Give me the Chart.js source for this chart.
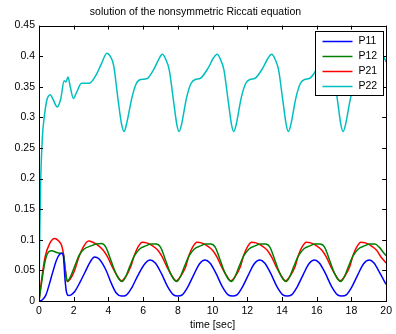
<!DOCTYPE html>
<html>
<head>
<meta charset="utf-8">
<script src="https://cdn.jsdelivr.net/npm/chart.js@4"></script>
<style>
  html, body { margin: 0; padding: 0; background: #fff; }
  #wrap { width: 396px; height: 334px; }
</style>
</head>
<body>
<div id="wrap"><canvas id="riccatiChart"></canvas></div>
<script>
const seriesNames = ['P11', 'P12', 'P21', 'P22'];
const seriesColors = ['#0000ff', '#008000', '#ff0000', '#00bfbf'];

const xTicks = [0, 2, 4, 6, 8, 10, 12, 14, 16, 18, 20];
const yTicks = [0, 0.05, 0.1, 0.15, 0.2, 0.25, 0.3, 0.35, 0.4, 0.45];
const yTickLabels = ['0', '0.05', '0.1', '0.15', '0.2', '0.25', '0.3', '0.35', '0.4', '0.45'];

// P11 (blue)
const p11Time = [0, 0.2, 0.4, 0.6, 0.8, 1.0, 1.15, 1.3, 1.4, 1.5, 1.58, 1.7, 1.85, 2.05, 2.35, 2.65, 2.95, 3.2, 3.45, 3.85,
  4.15, 4.45, 4.75, 5.0, 5.35, 5.7, 6.1, 6.4, 6.7, 7.05, 7.4, 7.75, 8.0, 8.25, 8.55, 8.9, 9.25, 9.57, 9.85, 10.2,
  10.55, 10.9, 11.15, 11.4, 11.7, 12.05, 12.4, 12.73, 13.0, 13.35, 13.7, 14.05, 14.3, 14.55, 14.85, 15.2, 15.55, 15.88, 16.15, 16.5,
  16.85, 17.2, 17.45, 17.7, 18.0, 18.35, 18.7, 19.03, 19.3, 19.65, 20];
const p11Values = [0, 0.002, 0.01, 0.028, 0.048, 0.066, 0.075, 0.078, 0.074, 0.035, 0.015, 0.009, 0.010, 0.015, 0.030, 0.047, 0.064, 0.072, 0.069, 0.051,
  0.030, 0.013, 0.008, 0.009, 0.022, 0.042, 0.061, 0.067, 0.062, 0.045, 0.024, 0.010, 0.008, 0.010, 0.022, 0.042, 0.061, 0.067, 0.062, 0.045,
  0.024, 0.010, 0.008, 0.010, 0.022, 0.042, 0.061, 0.067, 0.062, 0.045, 0.024, 0.010, 0.008, 0.010, 0.022, 0.042, 0.061, 0.067, 0.062, 0.045,
  0.024, 0.010, 0.008, 0.010, 0.022, 0.042, 0.061, 0.067, 0.062, 0.045, 0.027];

// P12 (green)
const p12Time = [0, 0.15, 0.35, 0.55, 0.75, 0.95, 1.2, 1.4, 1.5, 1.63, 1.85, 2.1, 2.3, 2.6, 3.0, 3.3, 3.6, 3.85, 4.1, 4.35,
  4.6, 4.8, 5.0, 5.25, 5.5, 5.8, 6.15, 6.45, 6.75, 7.0, 7.25, 7.5, 7.75, 7.95, 8.15, 8.4, 8.65, 8.95, 9.3, 9.6,
  9.9, 10.15, 10.4, 10.65, 10.9, 11.1, 11.3, 11.55, 11.8, 12.1, 12.45, 12.75, 13.05, 13.3, 13.55, 13.8, 14.05, 14.25, 14.45, 14.7,
  14.95, 15.25, 15.6, 15.9, 16.2, 16.45, 16.7, 16.95, 17.2, 17.4, 17.6, 17.85, 18.1, 18.4, 18.75, 19.05, 19.35, 19.6, 19.85, 20];
const p12Values = [0, 0.03, 0.065, 0.080, 0.082, 0.080, 0.078, 0.078, 0.055, 0.032, 0.042, 0.060, 0.074, 0.085, 0.090, 0.093, 0.094, 0.088, 0.070, 0.050,
  0.036, 0.032, 0.040, 0.058, 0.074, 0.085, 0.090, 0.093, 0.093, 0.088, 0.070, 0.050, 0.036, 0.032, 0.040, 0.058, 0.074, 0.085, 0.090, 0.093,
  0.093, 0.088, 0.070, 0.050, 0.036, 0.032, 0.040, 0.058, 0.074, 0.085, 0.090, 0.093, 0.093, 0.088, 0.070, 0.050, 0.036, 0.032, 0.040, 0.058,
  0.074, 0.085, 0.090, 0.093, 0.093, 0.088, 0.070, 0.050, 0.036, 0.032, 0.040, 0.058, 0.074, 0.085, 0.090, 0.093, 0.093, 0.088, 0.079, 0.074];

// P21 (red)
const p21Time = [0, 0.15, 0.35, 0.6, 0.9, 1.1, 1.3, 1.42, 1.52, 1.63, 1.8, 2.05, 2.3, 2.55, 2.85, 3.1, 3.4, 3.7, 3.95, 4.2,
  4.45, 4.75, 5.0, 5.28, 5.5, 5.7, 5.95, 6.2, 6.5, 6.85, 7.1, 7.35, 7.6, 7.9, 8.15, 8.45, 8.65, 8.85, 9.1, 9.35,
  9.65, 10.0, 10.25, 10.5, 10.75, 11.05, 11.3, 11.6, 11.8, 12.0, 12.25, 12.5, 12.8, 13.15, 13.4, 13.65, 13.9, 14.2, 14.45, 14.75,
  14.95, 15.15, 15.4, 15.65, 15.95, 16.3, 16.55, 16.8, 17.05, 17.35, 17.6, 17.9, 18.1, 18.3, 18.55, 18.8, 19.1, 19.45, 19.7, 20];
const p21Values = [0, 0.035, 0.072, 0.093, 0.102, 0.099, 0.091, 0.075, 0.050, 0.032, 0.036, 0.050, 0.072, 0.088, 0.098, 0.096, 0.091, 0.083, 0.072, 0.057,
  0.044, 0.033, 0.040, 0.056, 0.075, 0.088, 0.096, 0.095, 0.091, 0.083, 0.072, 0.057, 0.044, 0.033, 0.040, 0.056, 0.075, 0.088, 0.096, 0.095,
  0.091, 0.083, 0.072, 0.057, 0.044, 0.033, 0.040, 0.056, 0.075, 0.088, 0.096, 0.095, 0.091, 0.083, 0.072, 0.057, 0.044, 0.033, 0.040, 0.056,
  0.075, 0.088, 0.096, 0.095, 0.091, 0.083, 0.072, 0.057, 0.044, 0.033, 0.040, 0.056, 0.075, 0.088, 0.096, 0.095, 0.091, 0.083, 0.072, 0.062];

// P22 (cyan)
const p22Time = [0, 0.05, 0.1, 0.2, 0.3, 0.45, 0.65, 0.8, 1.05, 1.25, 1.45, 1.55, 1.67, 1.8, 1.98, 2.15, 2.45, 2.9, 3.3, 3.6,
  3.91, 4.1, 4.3, 4.55, 4.75, 4.9, 5.05, 5.35, 5.6, 5.85, 6.2, 6.6, 6.9, 7.1, 7.3, 7.5, 7.75, 7.95, 8.07, 8.2,
  8.5, 8.75, 9.0, 9.3, 9.75, 10.05, 10.26, 10.45, 10.65, 10.9, 11.1, 11.22, 11.35, 11.65, 11.9, 12.15, 12.45, 12.9, 13.2, 13.4,
  13.6, 13.8, 14.05, 14.25, 14.37, 14.5, 14.8, 15.05, 15.3, 15.6, 16.05, 16.35, 16.55, 16.75, 16.95, 17.2, 17.4, 17.52, 17.65, 17.95,
  18.2, 18.45, 18.75, 19.2, 19.5, 19.72, 19.9, 20];
const p22Values = [0, 0.12, 0.2, 0.27, 0.30, 0.328, 0.337, 0.330, 0.317, 0.33, 0.360, 0.358, 0.366, 0.350, 0.331, 0.340, 0.356, 0.356, 0.370, 0.388,
  0.405, 0.400, 0.385, 0.330, 0.290, 0.277, 0.290, 0.332, 0.355, 0.362, 0.363, 0.378, 0.395, 0.403, 0.395, 0.378, 0.327, 0.287, 0.277, 0.287,
  0.332, 0.355, 0.362, 0.364, 0.381, 0.397, 0.403, 0.395, 0.378, 0.327, 0.287, 0.277, 0.287, 0.332, 0.355, 0.362, 0.364, 0.381, 0.397, 0.403,
  0.395, 0.378, 0.327, 0.287, 0.277, 0.287, 0.332, 0.355, 0.362, 0.364, 0.381, 0.397, 0.403, 0.395, 0.378, 0.327, 0.287, 0.277, 0.287, 0.332,
  0.355, 0.362, 0.364, 0.381, 0.397, 0.403, 0.397, 0.390];

const seriesTimes = [p11Time, p12Time, p21Time, p22Time];
const seriesValues = [p11Values, p12Values, p21Values, p22Values];

const fontFamily = '"Liberation Sans", Arial, Helvetica, sans-serif';

function toPoints(times, values) {
    return times.map((t, i) => ({ x: t, y: values[i] }));
}

// MATLAB style box with inward ticks on all four sides
const boxPlugin = {
    id: 'boxPlugin',
    afterDraw(chart) {
        const ctx = chart.ctx;
        const area = chart.chartArea;
        const xs = chart.scales.x;
        const ys = chart.scales.y;
        const tick = 4;
        ctx.save();
        ctx.strokeStyle = '#000';
        ctx.lineWidth = 1;
        ctx.beginPath();
        xTicks.forEach(v => {
            const px = Math.round(xs.getPixelForValue(v)) + 0.5;
            ctx.moveTo(px, area.bottom);
            ctx.lineTo(px, area.bottom - tick);
            ctx.moveTo(px, area.top);
            ctx.lineTo(px, area.top + tick);
        });
        yTicks.forEach(v => {
            const py = Math.round(ys.getPixelForValue(v)) + 0.5;
            ctx.moveTo(area.left, py);
            ctx.lineTo(area.left + tick, py);
            ctx.moveTo(area.right, py);
            ctx.lineTo(area.right - tick, py);
        });
        ctx.stroke();
        ctx.strokeRect(Math.round(area.left) + 0.5, Math.round(area.top) + 0.5,
            Math.round(area.right - area.left), Math.round(area.bottom - area.top));

        // legend box in the top right corner
        const boxW = 68, boxH = 64;
        const bx = Math.round(area.right) - boxW - 3 + 0.5;
        const by = Math.round(area.top) + 5 + 0.5;
        ctx.fillStyle = '#fff';
        ctx.fillRect(bx, by, boxW, boxH);
        ctx.strokeRect(bx, by, boxW, boxH);
        ctx.font = '10.5px ' + fontFamily;
        ctx.textBaseline = 'middle';
        chart.data.datasets.forEach((ds, i) => {
            const rowY = by + 10 + i * 15;
            ctx.strokeStyle = ds.borderColor;
            ctx.lineWidth = 1.5;
            ctx.beginPath();
            ctx.moveTo(bx + 7, rowY);
            ctx.lineTo(bx + 37, rowY);
            ctx.stroke();
            ctx.fillStyle = '#000';
            ctx.fillText(ds.label, bx + 43, rowY);
        });
        ctx.restore();
    }
};

const ctx = document.getElementById('riccatiChart').getContext('2d');
const riccatiChart = new Chart(ctx, {
    type: 'line',
    data: {
        datasets: seriesNames.map((name, i) => ({
            label: name,
            data: toPoints(seriesTimes[i], seriesValues[i]),
            borderColor: seriesColors[i],
            backgroundColor: seriesColors[i],
            borderWidth: 1.5,
            pointRadius: 0,
            fill: false,
            cubicInterpolationMode: 'monotone'
        }))
    },
    options: {
        responsive: true,
        maintainAspectRatio: false,
        animation: false,
        layout: { padding: { top: 0, right: 5, bottom: 0, left: 0 } },
        plugins: {
            legend: { display: false },
            tooltip: { enabled: false },
            title: {
                display: true,
                text: 'solution of the nonsymmetric Riccati equation',
                color: '#000',
                font: { family: fontFamily, size: 10.5, weight: 'normal' },
                padding: { top: 6, bottom: 7 }
            }
        },
        scales: {
            x: {
                type: 'linear',
                min: 0,
                max: 20,
                afterBuildTicks: scale => { scale.ticks = xTicks.map(v => ({ value: v })); },
                afterFit: scale => { scale.height = 33; },
                grid: { display: false, drawTicks: false },
                border: { display: false },
                ticks: {
                    color: '#000',
                    padding: 4,
                    maxRotation: 0,
                    font: { family: fontFamily, size: 10.5 },
                    callback: value => String(value)
                },
                title: {
                    display: true,
                    text: 'time [sec]',
                    color: '#000',
                    font: { family: fontFamily, size: 10.5 },
                    padding: { top: 0, bottom: 3 }
                }
            },
            y: {
                type: 'linear',
                min: 0,
                max: 0.45,
                afterBuildTicks: scale => { scale.ticks = yTicks.map(v => ({ value: v })); },
                afterFit: scale => { scale.width = 39; },
                grid: { display: false, drawTicks: false },
                border: { display: false },
                ticks: {
                    color: '#000',
                    padding: 4,
                    font: { family: fontFamily, size: 10.5 },
                    callback: (value, index) => yTickLabels[index]
                }
            }
        }
    },
    plugins: [boxPlugin]
});
</script>
</body>
</html>
